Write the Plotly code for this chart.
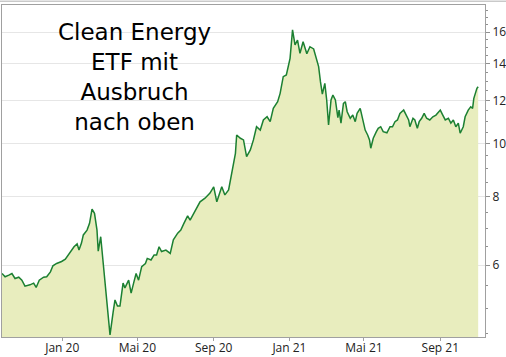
import plotly.graph_objects as go

dates = [
    "2019-09-26", "2019-10-01", "2019-10-07", "2019-10-12", "2019-10-17", "2019-10-23", "2019-10-28",
    "2019-11-02", "2019-11-10", "2019-11-16", "2019-11-20", "2019-11-25", "2019-12-02", "2019-12-07",
    "2019-12-13", "2019-12-17", "2019-12-23", "2019-12-31", "2020-01-06", "2020-01-11", "2020-01-17",
    "2020-01-20", "2020-01-25", "2020-01-28", "2020-02-01", "2020-02-04", "2020-02-10", "2020-02-14",
    "2020-02-18", "2020-02-22", "2020-02-26", "2020-02-28", "2020-03-03", "2020-03-07", "2020-03-12",
    "2020-03-15", "2020-03-18", "2020-03-23", "2020-03-26", "2020-03-30", "2020-04-03", "2020-04-08",
    "2020-04-11", "2020-04-17", "2020-04-21", "2020-04-25", "2020-04-29", "2020-05-03", "2020-05-08",
    "2020-05-14", "2020-05-17", "2020-05-23", "2020-05-28", "2020-06-01", "2020-06-05", "2020-06-09",
    "2020-06-16", "2020-06-23", "2020-06-28", "2020-07-05", "2020-07-10", "2020-07-15", "2020-07-21",
    "2020-07-25", "2020-08-02", "2020-08-10", "2020-08-18", "2020-08-26", "2020-09-01", "2020-09-06",
    "2020-09-14", "2020-09-19", "2020-09-25", "2020-09-30", "2020-10-06", "2020-10-08", "2020-10-14",
    "2020-10-19", "2020-10-24", "2020-10-30", "2020-11-04", "2020-11-09", "2020-11-15", "2020-11-20",
    "2020-11-26", "2020-12-01", "2020-12-06", "2020-12-13", "2020-12-17", "2020-12-22", "2020-12-27",
    "2021-01-02", "2021-01-06", "2021-01-10", "2021-01-14", "2021-01-18", "2021-01-23", "2021-01-29",
    "2021-02-03", "2021-02-09", "2021-02-14", "2021-02-17", "2021-02-20", "2021-02-23", "2021-02-27",
    "2021-03-02", "2021-03-05", "2021-03-09", "2021-03-12", "2021-03-16", "2021-03-20", "2021-03-22",
    "2021-03-25", "2021-03-29", "2021-04-01", "2021-04-04", "2021-04-09", "2021-04-13", "2021-04-17",
    "2021-04-20", "2021-04-25", "2021-04-29", "2021-05-03", "2021-05-07", "2021-05-10", "2021-05-12",
    "2021-05-16", "2021-05-21", "2021-05-24", "2021-05-28", "2021-06-01", "2021-06-07", "2021-06-12",
    "2021-06-16", "2021-06-20", "2021-06-24", "2021-06-28", "2021-07-04", "2021-07-08", "2021-07-12",
    "2021-07-14", "2021-07-19", "2021-07-22", "2021-07-26", "2021-07-29", "2021-08-02", "2021-08-06",
    "2021-08-10", "2021-08-15", "2021-08-20", "2021-08-25", "2021-09-01", "2021-09-05", "2021-09-09",
    "2021-09-14", "2021-09-18", "2021-09-22", "2021-09-26", "2021-09-30", "2021-10-03", "2021-10-08",
    "2021-10-11", "2021-10-16", "2021-10-20", "2021-10-23", "2021-10-25", "2021-10-30", "2021-11-01",
]

prices = [
    5.79, 5.71, 5.75, 5.79, 5.67, 5.70, 5.63,
    5.49, 5.52, 5.56, 5.46, 5.63, 5.70, 5.71,
    5.83, 5.98, 6.04, 6.09, 6.15, 6.26, 6.39,
    6.48, 6.56, 6.39, 6.58, 6.81, 6.95, 7.15,
    7.59, 7.46, 6.95, 6.36, 6.76, 6.00, 5.35,
    4.83, 4.47, 4.92, 5.18, 5.05, 5.05, 5.56,
    5.45, 5.63, 5.33, 5.56, 5.79, 5.63, 5.96,
    6.04, 6.17, 6.13, 6.26, 6.26, 6.48, 6.35,
    6.39, 6.30, 6.67, 6.86, 6.95, 7.15, 7.38,
    7.25, 7.56, 7.83, 7.95, 8.12, 8.34, 7.83,
    8.34, 8.06, 8.23, 8.83, 9.60, 10.37, 10.23,
    10.16, 9.47, 9.74, 10.16, 10.74, 10.59, 11.05,
    11.20, 10.97, 11.60, 11.93, 12.36, 13.26, 13.35,
    14.32, 16.14, 15.15, 15.47, 14.63, 15.36, 14.60,
    15.04, 14.90, 14.20, 13.83, 12.97, 12.32, 12.89,
    12.02, 10.82, 12.02, 12.27, 12.02, 11.16, 11.52,
    10.90, 11.85, 11.93, 11.44, 11.13, 11.28, 10.97,
    11.36, 11.60, 11.13, 10.59, 10.37, 10.16, 9.81,
    10.23, 10.52, 10.67, 10.74, 10.52, 10.47, 10.74,
    10.74, 10.97, 11.05, 11.36, 11.52, 11.28, 11.05,
    10.74, 11.13, 11.05, 10.67, 10.97, 11.13, 11.36,
    11.13, 11.05, 11.20, 11.28, 11.52, 11.28, 11.05,
    11.13, 10.90, 11.05, 10.74, 10.90, 10.45, 10.74,
    11.20, 11.52, 11.68, 11.60, 12.10, 12.62, 12.71,
]

x_tickvals = ["2020-01-01", "2020-05-01", "2020-09-01", "2021-01-01", "2021-05-01", "2021-09-01"]
x_ticktext = ["Jan 20", "Mai 20", "Sep 20", "Jan 21", "Mai 21", "Sep 21"]
y_tickvals = [6, 8, 10, 12, 14, 16]
y_ticktext = ["6", "8", "10", "12", "14", "16"]
y_minor = [4.5, 5, 5.5, 6.5, 7, 7.5, 8.5, 9, 9.5, 10.5, 11, 11.5, 12.5, 13, 13.5,
           14.5, 15, 15.5, 16.5, 17, 17.5]
title_text = "Clean Energy<br>ETF mit<br>Ausbruch<br>nach oben"

fig = go.Figure()
fig.add_trace(go.Scatter(
    x=dates, y=prices, mode="lines", fill="tozeroy",
    fillcolor="rgb(232,237,190)",
    line=dict(color="rgb(28,128,50)", width=1.5),
    hoverinfo="skip", showlegend=False,
))

fig.add_annotation(
    x=0.2733, y=0.7846, xref="paper", yref="paper", text=title_text, showarrow=False,
    xanchor="center", yanchor="middle", align="center",
    font=dict(family="DejaVu Sans", size=23, color="black"),
)

fig.add_shape(type="line", xref="paper", yref="paper", x0=-0.01, x1=1.05,
              y0=1.0115, y1=1.0115, line=dict(color="#b0b0b0", width=1))

fig.update_layout(
    width=506, height=357,
    margin=dict(l=2, r=21, t=5, b=20),
    paper_bgcolor="white", plot_bgcolor="white",
    xaxis=dict(
        type="date", range=["2019-09-26", "2021-11-12"],
        tickvals=x_tickvals, ticktext=x_ticktext,
        ticks="outside", ticklen=3, tickcolor="#a0a0a0",
        showline=True, linecolor="#a0a0a0", linewidth=1, mirror=True,
        showgrid=False, zeroline=False, automargin=False,
        ticklabelstandoff=-3, ticklabeloverflow="allow",
        tickfont=dict(family="Open Sans", size=12, color="#222"),
    ),
    yaxis=dict(
        type="log", side="right", range=[0.6466, 1.2535],
        tickvals=y_tickvals, ticktext=y_ticktext,
        ticks="outside", ticklen=4, tickcolor="#909090",
        minor=dict(tickvals=y_minor, ticks="outside", ticklen=2, tickcolor="#909090", showgrid=False),
        showline=True, linecolor="#a0a0a0", linewidth=1, mirror=True,
        showgrid=True, gridcolor="#e6e6e6", gridwidth=1, zeroline=False, automargin=False,
        ticklabeloverflow="allow",
        tickfont=dict(family="Open Sans", size=12, color="#222"),
    ),
)

fig.write_html(
    "out.html",
    config={"displayModeBar": False},
    post_script="document.body.style.margin='0';document.body.style.overflow='hidden';",
)
